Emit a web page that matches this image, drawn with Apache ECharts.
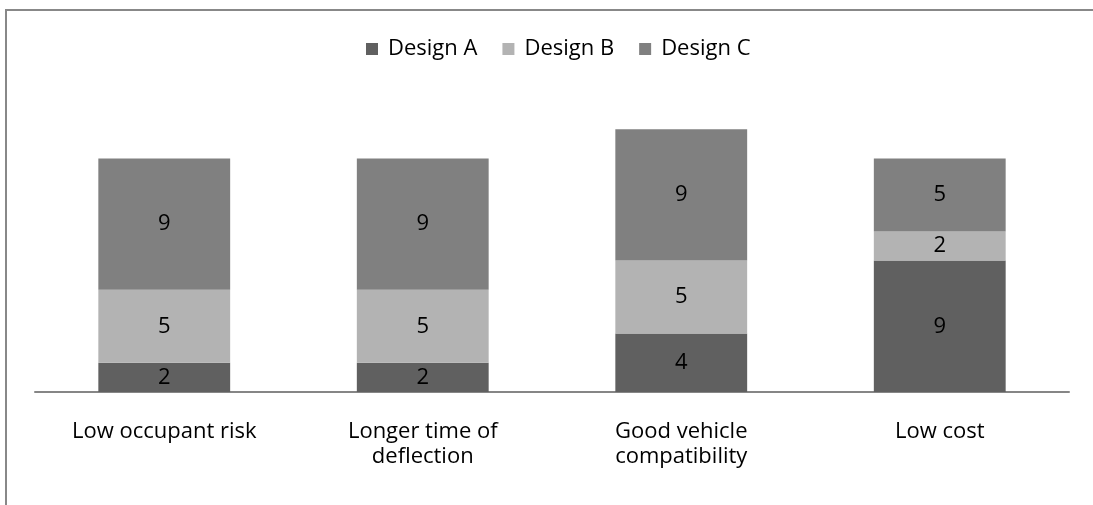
<!DOCTYPE html>
<html><head><meta charset="utf-8">
<script src="https://cdn.jsdelivr.net/npm/echarts@6/dist/echarts.min.js"></script>
<style>html,body{margin:0;padding:0;background:#fff}#c{width:1093px;height:505px}</style>
</head><body><div id="c"></div>
<script>
const categories = ['Low occupant risk', 'Longer time of\ndeflection', 'Good vehicle\ncompatibility', 'Low cost'];
const seriesNames = ['Design A', 'Design B', 'Design C'];
const designA = [2, 2, 4, 9];
const designB = [5, 5, 5, 2];
const designC = [9, 9, 9, 5];
const colors = ['#606060', '#b3b3b3', '#808080'];
const FONT = 'Open Sans';

const chart = echarts.init(document.getElementById('c'), null, {renderer: 'canvas'});
const data = [designA, designB, designC];
chart.setOption({
  animation: false,
  backgroundColor: '#ffffff',
  textStyle: {fontFamily: FONT},
  legend: {
    top: 33, left: 361,
    itemWidth: 12, itemHeight: 12, itemGap: 25,
    icon: 'rect',
    textStyle: {fontFamily: FONT, fontSize: 22, color: '#000', padding: [0,0,0,5]},
    data: seriesNames
  },
  grid: {left: 35, right: 24, top: 100, bottom: 113, containLabel: false},
  xAxis: {
    type: 'category', data: categories,
    axisLine: {lineStyle: {color: '#868686', width: 2}},
    axisTick: {show: false},
    axisLabel: {fontFamily: FONT, fontSize: 22, color: '#000', margin: 27, lineHeight: 25}
  },
  yAxis: {type: 'value', min: 0, max: 20, show: false, splitLine: {show: false}},
  series: seriesNames.map((n, i) => ({
    name: n, type: 'bar', stack: 'total', data: data[i], barWidth: '51%',
    itemStyle: {color: colors[i]},
    label: {show: true, position: 'inside', color: '#000', fontFamily: FONT, fontSize: 22}
  })),
  graphic: [
    {type: 'line', shape: {x1: 5, y1: 10, x2: 1093, y2: 10}, style: {stroke: '#888', lineWidth: 2}},
    {type: 'line', shape: {x1: 6, y1: 9, x2: 6, y2: 505}, style: {stroke: '#888', lineWidth: 2}}
  ]
});
</script></body></html>
